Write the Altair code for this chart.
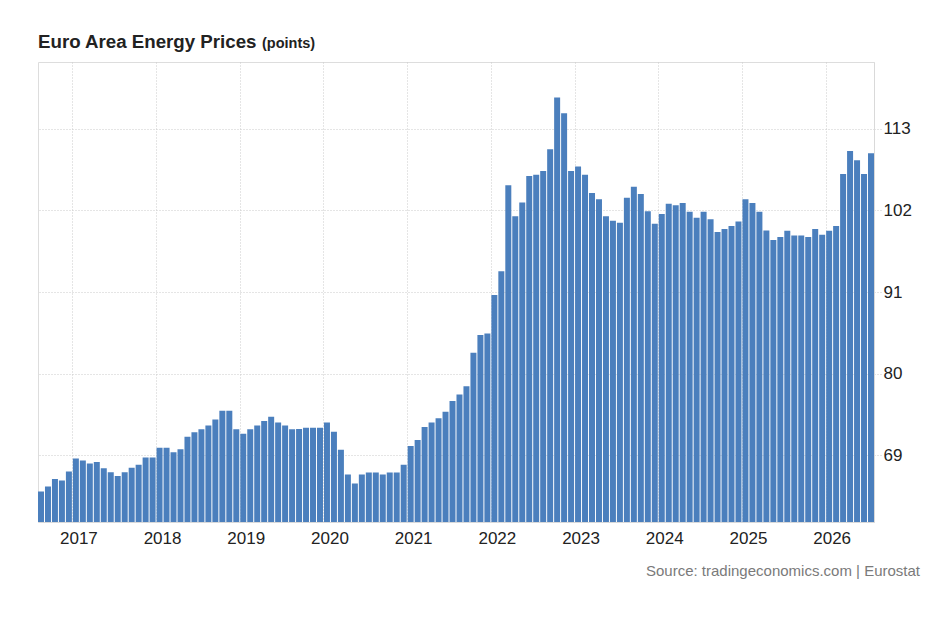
import altair as alt
import pandas as pd

# Euro Area Energy Prices (points), monthly, Aug 2016 - Jul 2026
start_year = 2016
start_month = 8
values_2016 = [64.1, 64.8, 65.8, 65.6, 66.8]
values_2017 = [68.55, 68.3, 67.9, 68.1, 67.25, 66.7, 66.2, 66.7, 67.3, 67.7, 68.7, 68.7]
values_2018 = [70.0, 70.0, 69.4, 69.8, 71.5, 72.1, 72.5, 73.0, 73.8, 75.0, 75.0, 72.5]
values_2019 = [71.9, 72.5, 73.0, 73.6, 74.2, 73.4, 73.0, 72.5, 72.55, 72.7, 72.7, 72.7]
values_2020 = [73.4, 72.15, 69.75, 66.4, 65.2, 66.4, 66.66, 66.66, 66.4, 66.66, 66.66, 67.7]
values_2021 = [70.25, 71.06, 72.8, 73.4, 74.0, 74.85, 76.3, 77.2, 78.3, 82.8, 85.2, 85.4]
values_2022 = [90.6, 93.8, 105.4, 101.2, 103.05, 106.65, 106.8, 107.3, 110.25, 117.2, 115.1, 107.3]
values_2023 = [107.9, 106.8, 104.35, 103.5, 101.2, 100.6, 100.35, 103.7, 105.2, 104.2, 101.9, 100.2]
values_2024 = [101.5, 102.9, 102.7, 103.0, 101.8, 101.0, 101.8, 100.8, 99.1, 99.5, 99.9, 100.5]
values_2025 = [103.5, 103.0, 101.8, 99.3, 98.0, 98.4, 99.25, 98.6, 98.6, 98.4, 99.5, 98.7]
values_2026 = [99.25, 99.9, 106.9, 110.0, 108.75, 106.9, 109.7]

year_ticks = ["2017-01", "2018-01", "2019-01", "2020-01", "2021-01",
              "2022-01", "2023-01", "2024-01", "2025-01", "2026-01"]
y_ticks = [69, 80, 91, 102, 113]

title_text = "Euro Area Energy Prices"
unit_text = "(points)"
source_text = "Source: tradingeconomics.com | Eurostat"

all_values = (values_2016 + values_2017 + values_2018 + values_2019 + values_2020 +
              values_2021 + values_2022 + values_2023 + values_2024 + values_2025 + values_2026)
months = []
y, m = start_year, start_month
for _ in all_values:
    months.append(f"{y}-{m:02d}")
    m += 1
    if m > 12:
        m = 1
        y += 1

df = pd.DataFrame({"month": months, "value": all_values})

W, H = 836, 460
FONT = "Liberation Sans"
GRID = "#cbcbcb"

x_enc = alt.X(
    "month:O",
    sort=None,
    scale=alt.Scale(paddingInner=0.14, paddingOuter=0),
    axis=alt.Axis(
        title=None,
        values=year_ticks,
        labelExpr="slice(datum.value, 0, 4)",
        labelAngle=0,
        labelFont=FONT,
        labelFontSize=17,
        labelColor="#222222",
        labelPadding=8,
        labelOffset=3,
        bandPosition=0,
        ticks=False,
        grid=True,
        gridColor=GRID,
        gridDash=[1, 2],
        domain=True,
        domainColor="#d9d9d9",
    ),
)

bars = alt.Chart(df).mark_bar(color="#4b7fbd", clip=True).encode(
    x=x_enc,
    y=alt.Y(
        "value:Q",
        scale=alt.Scale(domain=[60, 122], zero=False, nice=False),
        axis=alt.Axis(
            title=None,
            orient="right",
            values=y_ticks,
            labelFont=FONT,
            labelFontSize=17,
            labelColor="#222222",
            labelPadding=1,
            tickSize=8,
            tickColor=GRID,
            tickDash=[1, 2],
            grid=True,
            gridColor=GRID,
            gridDash=[1, 2],
            domain=True,
            domainColor="#d9d9d9",
        ),
    ),
    tooltip=["month:O", "value:Q"],
)

title_df = pd.DataFrame({"t": [title_text]})
title = alt.Chart(title_df).mark_text(
    font=FONT, fontSize=18.7, fontWeight="bold", color="#222222",
    align="left", baseline="alphabetic"
).encode(x=alt.value(0), y=alt.value(-14), text="t:N")

label_df = pd.DataFrame({"t": [unit_text]})
unit = alt.Chart(label_df).mark_text(
    font=FONT, fontSize=14.5, fontWeight="bold", color="#222222",
    align="left", baseline="alphabetic"
).encode(x=alt.value(224), y=alt.value(-14), text="t:N")

src_df = pd.DataFrame({"t": [source_text]})
source = alt.Chart(src_df).mark_text(
    font=FONT, fontSize=15, color="#7a7a7a",
    align="right", baseline="alphabetic"
).encode(x=alt.value(882), y=alt.value(514), text="t:N")

chart = alt.layer(bars, title, unit, source).properties(
    width=W,
    height=H,
    autosize=alt.AutoSizeParams(type="none"),
    padding={"left": 30, "top": 54, "right": 54, "bottom": 100},
).configure_view(
    stroke=GRID,
    strokeDash=[1, 2],
).configure(background="white")

chart.save("out.html", embed_options={"renderer": "svg", "actions": False})
